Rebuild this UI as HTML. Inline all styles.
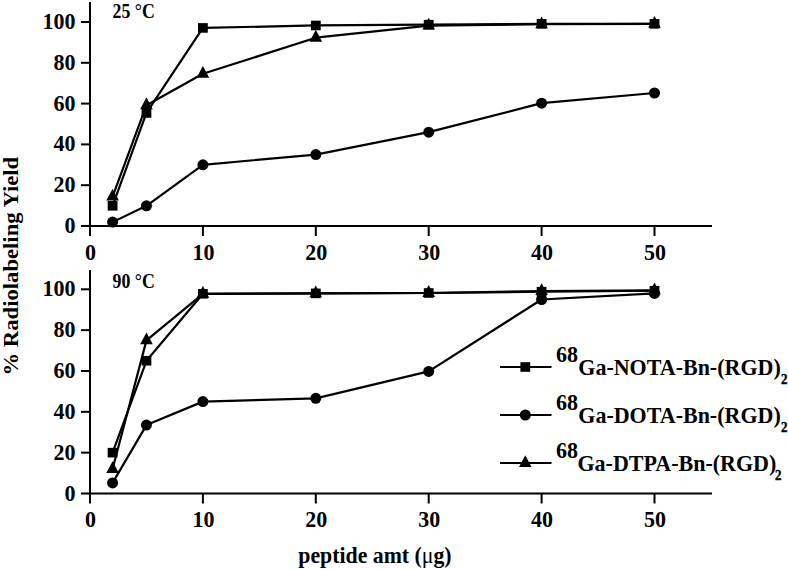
<!DOCTYPE html>
<html><head><meta charset="utf-8"><style>
html,body{margin:0;padding:0;background:#fff;}
svg{display:block;}
text{font-family:"Liberation Serif",serif;font-weight:bold;fill:#000;}
.tl{font-size:22px;}
.cl{font-size:17.8px;}
.lg{font-size:22px;}
.sub{font-size:13px;stroke:#000;stroke-width:0.35px;}
.ax{stroke:#000;stroke-width:2;fill:none;}
.ln{stroke:#000;stroke-width:2.2;fill:none;stroke-linejoin:round;}
</style></head><body>
<svg width="788" height="570" viewBox="0 0 788 570">
<rect width="788" height="570" fill="#fff"/>
<path d="M90 2 V236.0" class="ax"/>
<path d="M81 226.0 H712" class="ax"/>
<path d="M81 185.20 H90" class="ax"/>
<path d="M81 144.40 H90" class="ax"/>
<path d="M81 103.60 H90" class="ax"/>
<path d="M81 62.80 H90" class="ax"/>
<path d="M81 22.00 H90" class="ax"/>
<path d="M202.90 226.0 V236.0" class="ax"/>
<path d="M315.80 226.0 V236.0" class="ax"/>
<path d="M428.70 226.0 V236.0" class="ax"/>
<path d="M541.60 226.0 V236.0" class="ax"/>
<path d="M654.50 226.0 V236.0" class="ax"/>
<text transform="translate(75.50,233.00) scale(1.0,1.06)" class="tl" text-anchor="end">0</text>
<text transform="translate(75.50,192.20) scale(1.0,1.06)" class="tl" text-anchor="end">20</text>
<text transform="translate(75.50,151.40) scale(1.0,1.06)" class="tl" text-anchor="end">40</text>
<text transform="translate(75.50,110.60) scale(1.0,1.06)" class="tl" text-anchor="end">60</text>
<text transform="translate(75.50,69.80) scale(1.0,1.06)" class="tl" text-anchor="end">80</text>
<text transform="translate(75.50,29.00) scale(1.0,1.06)" class="tl" text-anchor="end">100</text>
<text transform="translate(90.50,260.10) scale(1.0,1.06)" class="tl" text-anchor="middle">0</text>
<text transform="translate(203.40,260.10) scale(1.0,1.06)" class="tl" text-anchor="middle">10</text>
<text transform="translate(316.30,260.10) scale(1.0,1.06)" class="tl" text-anchor="middle">20</text>
<text transform="translate(429.20,260.10) scale(1.0,1.06)" class="tl" text-anchor="middle">30</text>
<text transform="translate(542.10,260.10) scale(1.0,1.06)" class="tl" text-anchor="middle">40</text>
<text transform="translate(655.00,260.10) scale(1.0,1.06)" class="tl" text-anchor="middle">50</text>
<text transform="translate(112.60,17.70) scale(1.0,1.155)" class="cl">25 &#176;C</text>
<polyline points="112.58,222.12 146.45,205.80 202.90,164.80 315.80,154.60 428.70,132.16 541.60,103.19 654.50,92.99" class="ln"/>
<polyline points="112.58,196.62 146.45,105.23 202.90,73.82 315.80,37.71 428.70,25.67 541.60,24.24 654.50,23.84" class="ln"/>
<polyline points="112.58,205.80 146.45,112.98 202.90,27.92 315.80,25.47 428.70,24.65 541.60,23.84 654.50,23.84" class="ln"/>
<circle cx="112.58" cy="222.12" r="5.5"/>
<circle cx="146.45" cy="205.80" r="5.5"/>
<circle cx="202.90" cy="164.80" r="5.5"/>
<circle cx="315.80" cy="154.60" r="5.5"/>
<circle cx="428.70" cy="132.16" r="5.5"/>
<circle cx="541.60" cy="103.19" r="5.5"/>
<circle cx="654.50" cy="92.99" r="5.5"/>
<path d="M112.58 188.76 L118.88 200.56 L106.28 200.56Z"/>
<path d="M146.45 97.37 L152.75 109.17 L140.15 109.17Z"/>
<path d="M202.90 65.95 L209.20 77.75 L196.60 77.75Z"/>
<path d="M315.80 29.84 L322.10 41.64 L309.50 41.64Z"/>
<path d="M428.70 17.81 L435.00 29.61 L422.40 29.61Z"/>
<path d="M541.60 16.38 L547.90 28.18 L535.30 28.18Z"/>
<path d="M654.50 15.97 L660.80 27.77 L648.20 27.77Z"/>
<rect x="107.68" y="201.00" width="9.8" height="9.6"/>
<rect x="141.55" y="108.18" width="9.8" height="9.6"/>
<rect x="198.00" y="23.12" width="9.8" height="9.6"/>
<rect x="310.90" y="20.67" width="9.8" height="9.6"/>
<rect x="423.80" y="19.85" width="9.8" height="9.6"/>
<rect x="536.70" y="19.04" width="9.8" height="9.6"/>
<rect x="649.60" y="19.04" width="9.8" height="9.6"/>
<path d="M90 270 V503.5" class="ax"/>
<path d="M81 493.5 H712" class="ax"/>
<path d="M81 452.66 H90" class="ax"/>
<path d="M81 411.82 H90" class="ax"/>
<path d="M81 370.98 H90" class="ax"/>
<path d="M81 330.14 H90" class="ax"/>
<path d="M81 289.30 H90" class="ax"/>
<path d="M202.90 493.5 V503.5" class="ax"/>
<path d="M315.80 493.5 V503.5" class="ax"/>
<path d="M428.70 493.5 V503.5" class="ax"/>
<path d="M541.60 493.5 V503.5" class="ax"/>
<path d="M654.50 493.5 V503.5" class="ax"/>
<text transform="translate(75.50,500.50) scale(1.0,1.06)" class="tl" text-anchor="end">0</text>
<text transform="translate(75.50,459.66) scale(1.0,1.06)" class="tl" text-anchor="end">20</text>
<text transform="translate(75.50,418.82) scale(1.0,1.06)" class="tl" text-anchor="end">40</text>
<text transform="translate(75.50,377.98) scale(1.0,1.06)" class="tl" text-anchor="end">60</text>
<text transform="translate(75.50,337.14) scale(1.0,1.06)" class="tl" text-anchor="end">80</text>
<text transform="translate(75.50,296.30) scale(1.0,1.06)" class="tl" text-anchor="end">100</text>
<text transform="translate(90.50,527.20) scale(1.0,1.06)" class="tl" text-anchor="middle">0</text>
<text transform="translate(203.40,527.20) scale(1.0,1.06)" class="tl" text-anchor="middle">10</text>
<text transform="translate(316.30,527.20) scale(1.0,1.06)" class="tl" text-anchor="middle">20</text>
<text transform="translate(429.20,527.20) scale(1.0,1.06)" class="tl" text-anchor="middle">30</text>
<text transform="translate(542.10,527.20) scale(1.0,1.06)" class="tl" text-anchor="middle">40</text>
<text transform="translate(655.00,527.20) scale(1.0,1.06)" class="tl" text-anchor="middle">50</text>
<text transform="translate(112.60,287.90) scale(1.0,1.155)" class="cl">90 &#176;C</text>
<polyline points="112.58,482.88 146.45,425.09 202.90,401.61 315.80,398.34 428.70,371.39 541.60,299.51 654.50,293.38" class="ln"/>
<polyline points="112.58,469.00 146.45,340.35 202.90,293.79 315.80,293.38 428.70,292.98 541.60,291.14 654.50,290.32" class="ln"/>
<polyline points="112.58,452.66 146.45,360.77 202.90,293.79 315.80,293.38 428.70,292.98 541.60,291.75 654.50,290.73" class="ln"/>
<circle cx="112.58" cy="482.88" r="5.5"/>
<circle cx="146.45" cy="425.09" r="5.5"/>
<circle cx="202.90" cy="401.61" r="5.5"/>
<circle cx="315.80" cy="398.34" r="5.5"/>
<circle cx="428.70" cy="371.39" r="5.5"/>
<circle cx="541.60" cy="299.51" r="5.5"/>
<circle cx="654.50" cy="293.38" r="5.5"/>
<path d="M112.58 461.13 L118.88 472.93 L106.28 472.93Z"/>
<path d="M146.45 332.48 L152.75 344.28 L140.15 344.28Z"/>
<path d="M202.90 285.93 L209.20 297.73 L196.60 297.73Z"/>
<path d="M315.80 285.52 L322.10 297.32 L309.50 297.32Z"/>
<path d="M428.70 285.11 L435.00 296.91 L422.40 296.91Z"/>
<path d="M541.60 283.27 L547.90 295.07 L535.30 295.07Z"/>
<path d="M654.50 282.45 L660.80 294.25 L648.20 294.25Z"/>
<rect x="107.68" y="447.86" width="9.8" height="9.6"/>
<rect x="141.55" y="355.97" width="9.8" height="9.6"/>
<rect x="198.00" y="288.99" width="9.8" height="9.6"/>
<rect x="310.90" y="288.58" width="9.8" height="9.6"/>
<rect x="423.80" y="288.18" width="9.8" height="9.6"/>
<rect x="536.70" y="286.95" width="9.8" height="9.6"/>
<rect x="649.60" y="285.93" width="9.8" height="9.6"/>
<path d="M500 367.0 H551.5" class="ln"/>
<rect x="520.40" y="362.20" width="9.8" height="9.6"/>
<text transform="translate(556.00,362.00) scale(1.0,1.04)" class="lg">68</text>
<text transform="translate(578.30,374.60) scale(1.0,1.04)" class="lg">Ga-NOTA-Bn-(RGD)<tspan class="sub" dx="0.4" dy="8.85">2</tspan></text>
<path d="M500 415.0 H551.5" class="ln"/>
<circle cx="525.30" cy="415.00" r="5.5"/>
<text transform="translate(556.00,410.00) scale(1.0,1.04)" class="lg">68</text>
<text transform="translate(578.30,422.60) scale(1.0,1.04)" class="lg">Ga-DOTA-Bn-(RGD)<tspan class="sub" dx="0.4" dy="8.85">2</tspan></text>
<path d="M500 463.0 H551.5" class="ln"/>
<path d="M525.30 455.13 L531.60 466.93 L519.00 466.93Z"/>
<text transform="translate(556.00,458.00) scale(1.0,1.04)" class="lg">68</text>
<text transform="translate(577.50,470.60) scale(1.0,1.04)" class="lg">Ga-DTPA-Bn-(RGD)<tspan class="sub" dx="-1.2" dy="8.85">2</tspan></text>
<text transform="translate(17.6,375.5) rotate(-90) scale(1.031,1)" style="font-size:22px">% Radiolabeling Yield</text>
<text transform="translate(298.3,562.5) scale(1,1.04)" style="font-size:21.8px">peptide amt (<tspan style="font-weight:normal">&#956;</tspan>g)</text>
</svg>
</body></html>
